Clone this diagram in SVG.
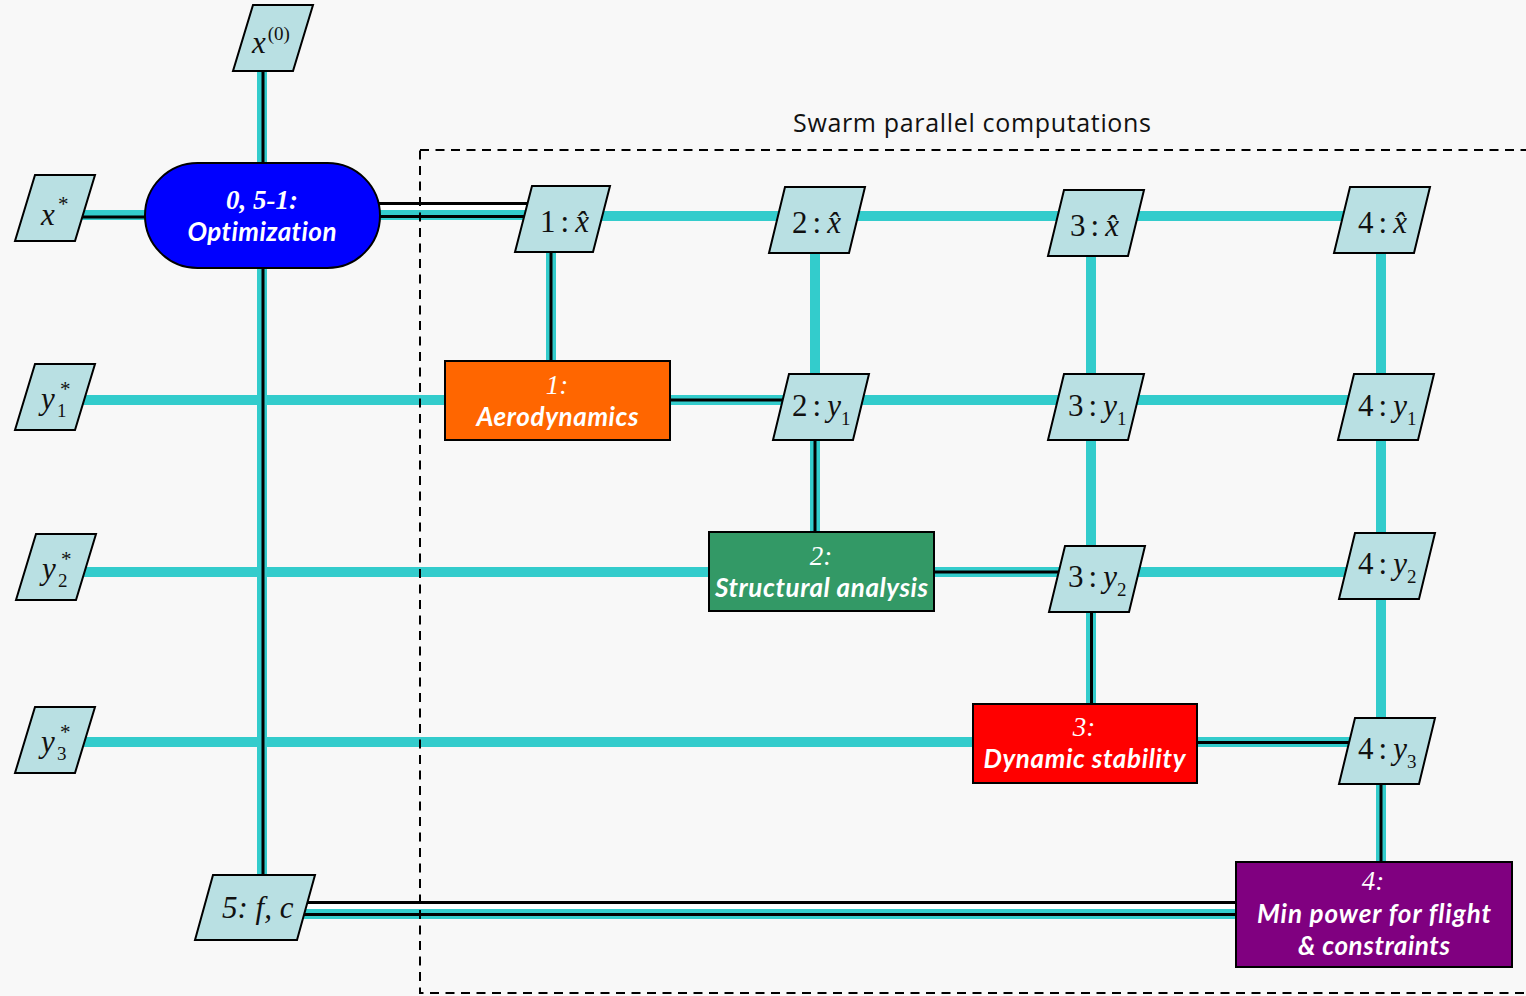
<svg xmlns="http://www.w3.org/2000/svg" width="1526" height="996" viewBox="0 0 1526 996">
<style>
.p{fill:#b9e0e3;stroke:#000;stroke-width:2}
.c{stroke:#33cccc;stroke-width:10;fill:none}
.k{stroke:#000;stroke-width:3;fill:none}
.w{stroke:#fff;stroke-width:5;fill:none}
.box{stroke:#000;stroke-width:2}
.m{font-family:"Liberation Serif",serif;font-size:31px;fill:#111}
.i{font-style:italic}
.n{font-family:"Liberation Serif",serif;font-style:italic;font-size:27px;fill:#fff;text-anchor:middle}
.t{font-family:Lato,"Liberation Sans",sans-serif;font-weight:bold;font-style:italic;font-size:26px;fill:#fff;text-anchor:middle;font-variant-ligatures:none}
.sb{font-size:19px}
.st{font-size:21px}
</style>
<rect x="0" y="0" width="1526" height="996" fill="#f8f8f8"/>

<g id="connectors">
  <line class="c" x1="262" y1="70" x2="262" y2="165"/>
  <line class="k" x1="263" y1="70" x2="263" y2="165"/>
  <line class="c" x1="78" y1="215" x2="150" y2="215"/>
  <line class="k" x1="78" y1="217" x2="150" y2="217"/>
  <line class="w" x1="375" y1="207.5" x2="532" y2="207.5"/>
  <line class="k" x1="375" y1="203.5" x2="532" y2="203.5"/>
  <line class="c" x1="375" y1="215" x2="530" y2="215"/>
  <line class="k" x1="375" y1="216.5" x2="530" y2="216.5"/>
  <line class="c" x1="560" y1="216" x2="1390" y2="216"/>
  <line class="c" x1="60" y1="400" x2="1390" y2="400"/>
  <line class="k" x1="670" y1="400" x2="790" y2="400"/>
  <line class="c" x1="60" y1="572" x2="1390" y2="572"/>
  <line class="k" x1="934" y1="572" x2="1060" y2="572"/>
  <line class="c" x1="60" y1="742" x2="1390" y2="742"/>
  <line class="k" x1="1197" y1="742.5" x2="1350" y2="742.5"/>
  <line class="c" x1="551" y1="250" x2="551" y2="362"/>
  <line class="k" x1="551" y1="250" x2="551" y2="362"/>
  <line class="c" x1="815" y1="250" x2="815" y2="533"/>
  <line class="k" x1="815" y1="438" x2="815" y2="533"/>
  <line class="c" x1="1091" y1="252" x2="1091" y2="705"/>
  <line class="k" x1="1091.5" y1="610" x2="1091.5" y2="705"/>
  <line class="c" x1="1381" y1="250" x2="1381" y2="863"/>
  <line class="k" x1="1381" y1="782" x2="1381" y2="863"/>
  <line class="c" x1="262" y1="266" x2="262" y2="877"/>
  <line class="k" x1="263" y1="266" x2="263" y2="877"/>
  <line class="w" x1="300" y1="906.5" x2="1237" y2="906.5"/>
  <line class="k" x1="300" y1="902.5" x2="1237" y2="902.5"/>
  <line class="c" x1="300" y1="914" x2="1237" y2="914"/>
  <line class="k" x1="300" y1="914.5" x2="1237" y2="914.5"/>
</g>

<g id="swarm-region">
  <rect x="420" y="150" width="1200" height="843" fill="none" stroke="#000" stroke-width="2" stroke-dasharray="9,6.5"/>
  <text x="793" y="132" font-family="'Open Sans','Liberation Sans',sans-serif" font-size="25" fill="#111" textLength="358">Swarm parallel computations</text>
</g>

<g id="n-x0">
  <polygon class="p" points="233,71 293,71 313,5 253,5"/>
  <text class="m" x="252" y="53"><tspan class="i">x</tspan><tspan class="sb" dx="2" dy="-13">(0)</tspan></text>
</g>
<g id="n-xstar">
  <polygon class="p" points="15,241 75,241 95,175 35,175"/>
  <text class="m" x="41" y="225"><tspan class="i">x</tspan><tspan class="st" x="58" y="211">*</tspan></text>
</g>
<g id="n-y1star">
  <polygon class="p" points="15,430 75,430 95,364 35,364"/>
  <text class="m" x="41" y="409"><tspan class="i">y</tspan><tspan class="sb" x="57" y="417">1</tspan><tspan class="st" x="60" y="396">*</tspan></text>
</g>
<g id="n-y2star">
  <polygon class="p" points="16,600 76,600 96,534 36,534"/>
  <text class="m" x="42" y="579"><tspan class="i">y</tspan><tspan class="sb" x="58" y="587">2</tspan><tspan class="st" x="61" y="566">*</tspan></text>
</g>
<g id="n-y3star">
  <polygon class="p" points="15,773 75,773 95,707 35,707"/>
  <text class="m" x="41" y="752"><tspan class="i">y</tspan><tspan class="sb" x="57" y="760">3</tspan><tspan class="st" x="60" y="739">*</tspan></text>
</g>

<g id="n-opt">
  <rect x="145" y="163" width="235" height="105" rx="52.5" ry="52.5" fill="#0000ff" class="box"/>
  <text class="n" x="262" y="209" font-weight="bold" font-size="28">0, 5-1:</text>
  <text class="t" x="262" y="241" textLength="149">Optimization</text>
</g>

<g id="n-1x">
  <polygon class="p" points="515,252 593,252 610,186 532,186"/>
  <text class="m" x="540" y="232">1<tspan dx="5">:</tspan><tspan class="i" dx="6">x̂</tspan></text>
</g>
<g id="n-2x">
  <polygon class="p" points="769,253 849,253 865,187 785,187"/>
  <text class="m" x="792" y="233">2<tspan dx="5">:</tspan><tspan class="i" dx="6">x̂</tspan></text>
</g>
<g id="n-3x">
  <polygon class="p" points="1048,256 1128,256 1144,190 1064,190"/>
  <text class="m" x="1070" y="236">3<tspan dx="5">:</tspan><tspan class="i" dx="6">x̂</tspan></text>
</g>
<g id="n-4x">
  <polygon class="p" points="1334,253 1414,253 1430,187 1350,187"/>
  <text class="m" x="1358" y="233">4<tspan dx="5">:</tspan><tspan class="i" dx="6">x̂</tspan></text>
</g>

<g id="n-aero">
  <rect x="445" y="361" width="225" height="79" fill="#ff6600" class="box"/>
  <text class="n" x="557" y="394">1:</text>
  <text class="t" x="557.5" y="426" textLength="162">Aerodynamics</text>
</g>
<g id="n-2y1">
  <polygon class="p" points="773,440 853,440 869,374 789,374"/>
  <text class="m" x="792" y="416">2<tspan dx="5">:</tspan><tspan class="i" dx="6">y</tspan><tspan class="sb" dx="0" dy="9">1</tspan></text>
</g>
<g id="n-3y1">
  <polygon class="p" points="1048,440 1128,440 1144,374 1064,374"/>
  <text class="m" x="1068" y="416">3<tspan dx="5">:</tspan><tspan class="i" dx="6">y</tspan><tspan class="sb" dx="0" dy="9">1</tspan></text>
</g>
<g id="n-4y1">
  <polygon class="p" points="1338,440 1418,440 1434,374 1354,374"/>
  <text class="m" x="1358" y="416">4<tspan dx="5">:</tspan><tspan class="i" dx="6">y</tspan><tspan class="sb" dx="0" dy="9">1</tspan></text>
</g>

<g id="n-struct">
  <rect x="709" y="532" width="225" height="79" fill="#339966" class="box"/>
  <text class="n" x="821" y="565">2:</text>
  <text class="t" x="821.5" y="597" textLength="213">Structural analysis</text>
</g>
<g id="n-3y2">
  <polygon class="p" points="1049,612 1129,612 1145,546 1065,546"/>
  <text class="m" x="1068" y="587">3<tspan dx="5">:</tspan><tspan class="i" dx="6">y</tspan><tspan class="sb" dx="0" dy="9">2</tspan></text>
</g>
<g id="n-4y2">
  <polygon class="p" points="1339,599 1419,599 1435,533 1355,533"/>
  <text class="m" x="1358" y="574">4<tspan dx="5">:</tspan><tspan class="i" dx="6">y</tspan><tspan class="sb" dx="0" dy="9">2</tspan></text>
</g>

<g id="n-dyn">
  <rect x="973" y="704" width="224" height="79" fill="#ff0000" class="box"/>
  <text class="n" x="1084" y="736">3:</text>
  <text class="t" x="1084.5" y="768" textLength="202">Dynamic stability</text>
</g>
<g id="n-4y3">
  <polygon class="p" points="1339,784 1419,784 1435,718 1355,718"/>
  <text class="m" x="1358" y="759">4<tspan dx="5">:</tspan><tspan class="i" dx="6">y</tspan><tspan class="sb" dx="0" dy="9">3</tspan></text>
</g>

<g id="n-minpower">
  <rect x="1236" y="862" width="276" height="105" fill="#800080" class="box"/>
  <text class="n" x="1373" y="890">4:</text>
  <text class="t" x="1374" y="923" textLength="234">Min power for flight</text>
  <text class="t" x="1374" y="955" textLength="152">&amp; constraints</text>
</g>

<g id="n-5fc">
  <polygon class="p" points="195,940 297,940 315,875 213,875"/>
  <text class="m i" x="222" y="918" font-size="27">5: f, c</text>
</g>
</svg>
